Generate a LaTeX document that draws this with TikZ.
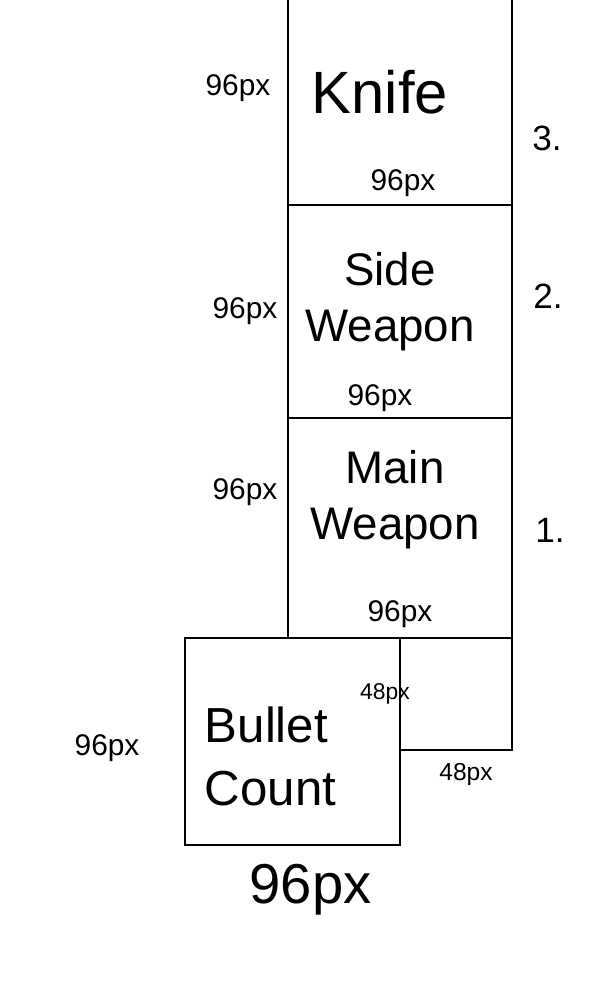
\documentclass[tikz,border=0pt]{standalone}
\usepackage{fontspec}
\setmainfont{Liberation Sans}
\usetikzlibrary{positioning,calc}
\tikzset{
    %Define style for slot boxes
    slot/.style={
           draw,
           line width=0.8pt,
           inner sep=0pt,
           outer sep=0pt},
    % Define style for handwritten names
    hand/.style={
           align=center,
           font=\fontsize{26}{32}\selectfont},
    % Define style for size notes
    size/.style={
           font=\fontsize{17}{20}\selectfont},
    num/.style={
           font=\fontsize{20}{24}\selectfont}
}
\begin{document}
\begin{tikzpicture}[x=0.02cm, y=-0.02cm]
	\clip (0,0) rectangle (600,1000);

	% weapon column
	\node[slot, minimum width=4.48cm, minimum height=4.2cm] (knife) at (400,100) {};
	\node[slot, minimum width=4.48cm, minimum height=4.26cm, below=0pt of knife] (side) {};
	\node[slot, minimum width=4.48cm, minimum height=4.4cm, below=0pt of side] (main) {};

	% bottom boxes
	\node[slot, minimum width=2.24cm, minimum height=2.24cm, below left=0pt and 0pt of main.south east] (small) {};
	\node[slot, minimum width=4.3cm, minimum height=4.14cm, below left=0pt and 0pt of small.north west] (bullet) {};

	% names
	\node[hand, font=\fontsize{34}{40}\selectfont] (knife-name) at ($(knife.center)+(-20,-8)$) {Knife};
	\node[hand] (side-name) at ($(side.center)+(-10,-10)$) {Side\\Weapon};
	\node[hand] (main-name) at ($(main.center)+(-5,-28)$) {Main\\Weapon};
	\node[hand, align=left, font=\fontsize{28}{36}\selectfont] (bullet-name) at ($(bullet.center)+(-22,15)$) {Bullet\\Count};

	% sizes
	\node[size] (knife-h) at ($(knife.west)+(-50,-12)$) {96px};
	\node[size] (knife-w) at ($(knife.south)+(3,-22)$) {96px};
	\node[size] (side-h) at ($(side.west)+(-43,0)$) {96px};
	\node[size] (side-w) at ($(side.south)+(-20,-20)$) {96px};
	\node[size] (main-h) at ($(main.west)+(-43,-36)$) {96px};
	\node[size] (main-w) at ($(main.south)+(0,-24)$) {96px};
	\node[size, font=\fontsize{13}{16}\selectfont] (small-h) at ($(small.west)+(-15,0)$) {48px};
	\node[size, font=\fontsize{14}{16}\selectfont] (small-w) at ($(small.south)+(10,25)$) {48px};
	\node[size] (bullet-h) at ($(bullet.west)+(-78,7)$) {96px};
	\node[size, font=\fontsize{32}{36}\selectfont] (bullet-w) at ($(bullet.south)+(18,45)$) {96px};

	% slot numbers
	\node[num] (n3) at ($(knife.east)+(35,38)$) {3.};
	\node[num] (n2) at ($(side.east)+(36,-15)$) {2.};
	\node[num] (n1) at ($(main.east)+(38,2)$) {1.};

\end{tikzpicture}
\end{document}
